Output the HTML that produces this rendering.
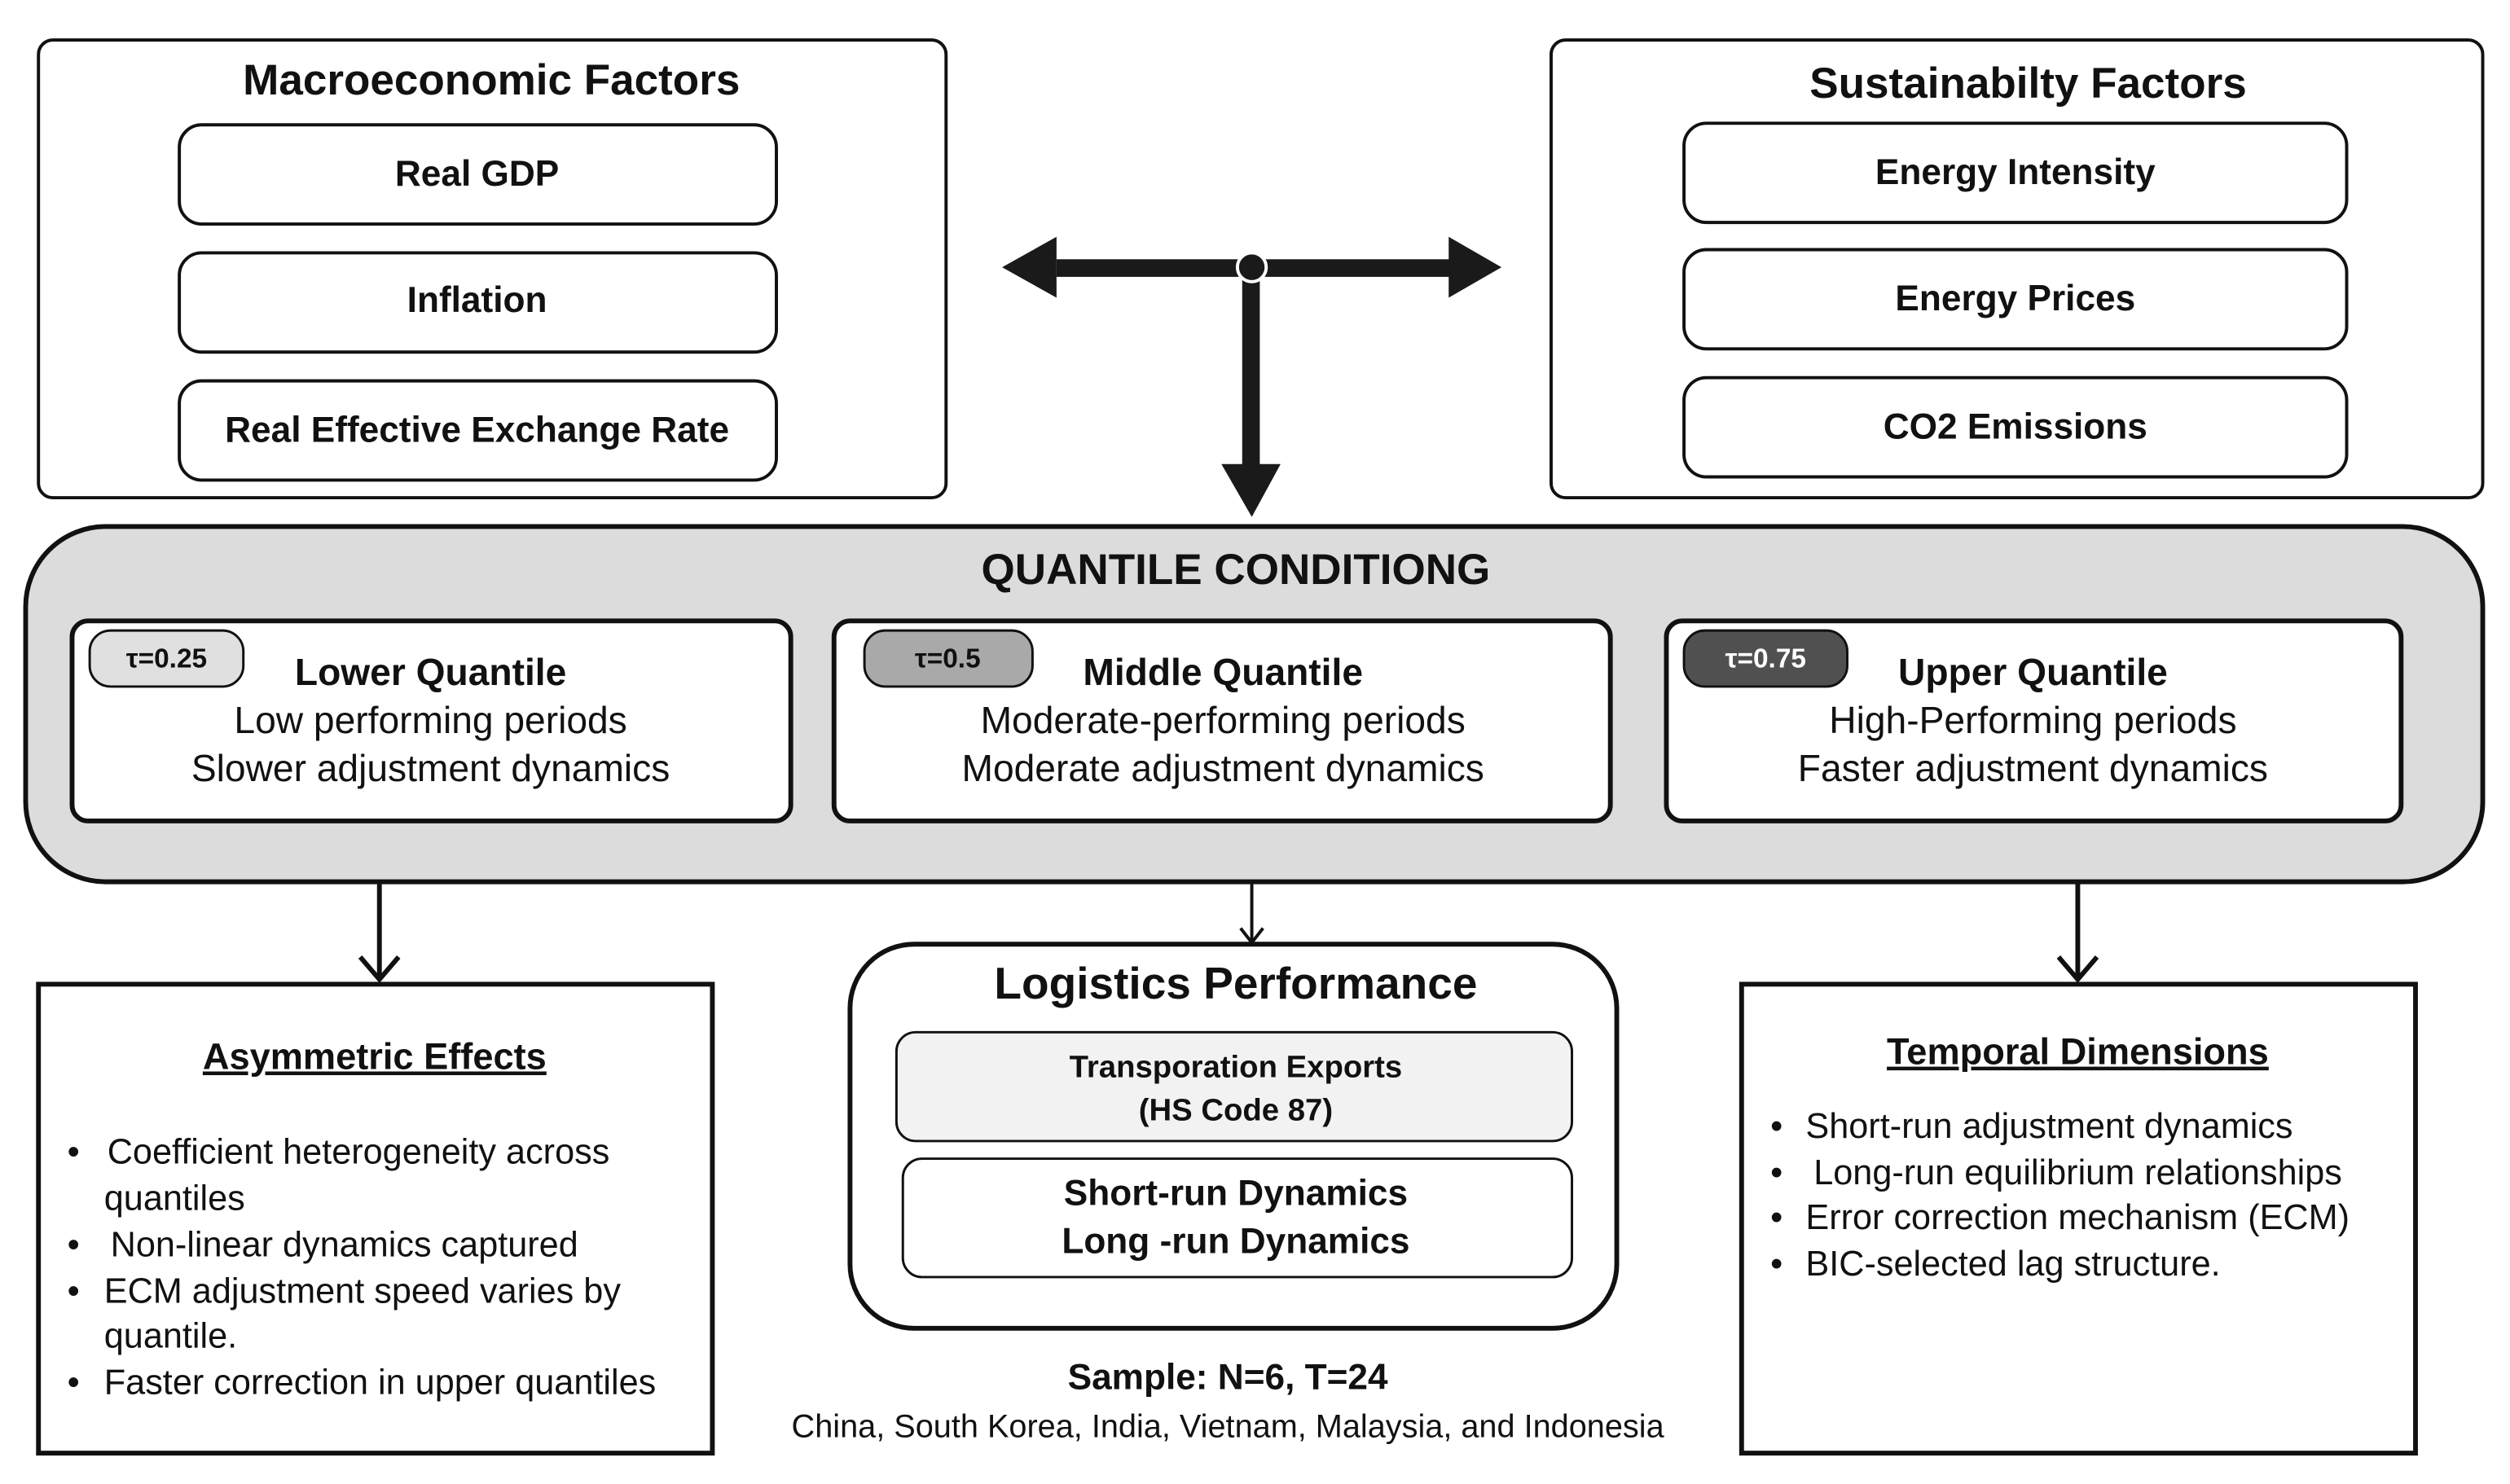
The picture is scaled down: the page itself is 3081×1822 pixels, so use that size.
<!DOCTYPE html>
<html><head><meta charset="utf-8"><style>
html,body{margin:0;padding:0;background:#fff;}
svg{display:block;}
text{font-family:"Liberation Sans",sans-serif;fill:#111;}
.b{font-weight:bold;}
</style></head><body>
<svg width="3081" height="1822" viewBox="0 0 1568 927.3" xmlns="http://www.w3.org/2000/svg">
<rect width="1568" height="928" fill="#fff"/>
<!-- Macro -->
<rect x="24" y="25" width="567" height="286" rx="9" fill="#fff" stroke="#111" stroke-width="2"/>
<text x="307" y="59" text-anchor="middle" class="b" font-size="27">Macroeconomic Factors</text>
<g fill="#fff" stroke="#111" stroke-width="2">
<rect x="112" y="78" width="373" height="62" rx="14"/>
<rect x="112" y="158" width="373" height="62" rx="14"/>
<rect x="112" y="238" width="373" height="62" rx="14"/>
<rect x="1052" y="77" width="414" height="62" rx="14"/>
<rect x="1052" y="156" width="414" height="62" rx="14"/>
<rect x="1052" y="236" width="414" height="62" rx="14"/>
</g>
<g font-size="22.5" text-anchor="middle">
<text x="298" y="116" class="b">Real GDP</text>
<text x="298" y="195" class="b">Inflation</text>
<text x="298" y="276" class="b">Real Effective Exchange Rate</text>
<text x="1259" y="115" class="b">Energy Intensity</text>
<text x="1259" y="194" class="b">Energy Prices</text>
<text x="1259" y="274" class="b">CO2 Emissions</text>
</g>
<!-- Sustainability -->
<rect x="969" y="25" width="582" height="286" rx="9" fill="none" stroke="#111" stroke-width="2"/>
<text x="1267" y="61" text-anchor="middle" class="b" font-size="27">Sustainabilty Factors</text>
<!-- T arrow -->
<rect x="660" y="162" width="248" height="11" fill="#1a1a1a"/>
<polygon points="626,167 660,148 660,186" fill="#1a1a1a"/>
<polygon points="938,167 905,148 905,186" fill="#1a1a1a"/>
<rect x="776" y="167" width="11" height="125" fill="#1a1a1a"/>
<polygon points="763,290 800,290 782,323" fill="#1a1a1a"/>
<circle cx="782" cy="167" r="9" fill="#1a1a1a" stroke="#fff" stroke-width="2"/>
<!-- Quantile -->
<rect x="16" y="329" width="1535" height="222" rx="50" fill="#dcdcdc" stroke="#111" stroke-width="3"/>
<text x="772" y="365" text-anchor="middle" class="b" font-size="27">QUANTILE CONDITIONG</text>
<g fill="#fff" stroke="#111" stroke-width="3">
<rect x="45" y="388" width="449" height="125" rx="10"/>
<rect x="521" y="388" width="485" height="125" rx="10"/>
<rect x="1041" y="388" width="459" height="125" rx="10"/>
</g>
<rect x="56" y="394" width="96" height="35" rx="13" fill="#e0e0e0" stroke="#111" stroke-width="1.5"/>
<rect x="540" y="394" width="105" height="35" rx="13" fill="#a9a9a9" stroke="#111" stroke-width="1.5"/>
<rect x="1052" y="394" width="102" height="35" rx="13" fill="#505050" stroke="#111" stroke-width="1.5"/>
<text x="104" y="417" text-anchor="middle" class="b" font-size="17">τ=0.25</text>
<text x="592" y="417" text-anchor="middle" class="b" font-size="17">τ=0.5</text>
<text x="1103" y="417" text-anchor="middle" class="b" font-size="17" style="fill:#fff">τ=0.75</text>
<g text-anchor="middle" font-size="23.5">
<text x="269" y="428" class="b" font-size="23.5">Lower Quantile</text>
<text x="269" y="458">Low performing periods</text>
<text x="269" y="488">Slower adjustment dynamics</text>
<text x="764" y="428" class="b" font-size="23.5">Middle Quantile</text>
<text x="764" y="458">Moderate-performing periods</text>
<text x="764" y="488">Moderate adjustment dynamics</text>
<text x="1270" y="428" class="b" font-size="23.5">Upper Quantile</text>
<text x="1270" y="458">High-Performing periods</text>
<text x="1270" y="488">Faster adjustment dynamics</text>
</g>
<!-- connectors -->
<g stroke="#111" fill="none">
<line x1="237" y1="551" x2="237" y2="611" stroke-width="3"/>
<polyline points="225,598 237,612 249,598" stroke-width="3"/>
<line x1="782" y1="551" x2="782" y2="589" stroke-width="2"/>
<polyline points="775,580 782,589 789,580" stroke-width="2"/>
<line x1="1298" y1="551" x2="1298" y2="611" stroke-width="3"/>
<polyline points="1286,598 1298,612 1310,598" stroke-width="3"/>
</g>
<!-- Asymmetric -->
<rect x="24" y="615" width="421" height="293" fill="#fff" stroke="#111" stroke-width="3"/>
<text x="234" y="668" text-anchor="middle" class="b" font-size="23" text-decoration="underline">Asymmetric Effects</text>
<g font-size="22">
<text x="42" y="727">•</text><text x="67" y="727">Coefficient heterogeneity across</text>
<text x="65" y="756">quantiles</text>
<text x="42" y="785">•</text><text x="69" y="785">Non-linear dynamics captured</text>
<text x="42" y="814">•</text><text x="65" y="814">ECM adjustment speed varies by</text>
<text x="65" y="842">quantile.</text>
<text x="42" y="871">•</text><text x="65" y="871">Faster correction in upper quantiles</text>
</g>
<!-- Logistics -->
<rect x="531" y="590" width="479" height="240" rx="40" fill="#fff" stroke="#111" stroke-width="3"/>
<text x="772" y="624" text-anchor="middle" class="b" font-size="28">Logistics Performance</text>
<rect x="560" y="645" width="422" height="68" rx="12" fill="#f2f2f2" stroke="#111" stroke-width="1.5"/>
<text x="772" y="673" text-anchor="middle" class="b" font-size="19.5">Transporation Exports</text>
<text x="772" y="700" text-anchor="middle" class="b" font-size="19.5">(HS Code 87)</text>
<rect x="564" y="724" width="418" height="74" rx="12" fill="#fff" stroke="#111" stroke-width="1.5"/>
<text x="772" y="753" text-anchor="middle" class="b" font-size="22.5">Short-run Dynamics</text>
<text x="772" y="783" text-anchor="middle" class="b" font-size="22.5">Long -run Dynamics</text>
<text x="767" y="868" text-anchor="middle" class="b" font-size="22.5">Sample: N=6, T=24</text>
<text x="767" y="898" text-anchor="middle" font-size="20.2">China, South Korea, India, Vietnam, Malaysia, and Indonesia</text>
<!-- Temporal -->
<rect x="1088" y="615" width="421" height="293" fill="#fff" stroke="#111" stroke-width="3"/>
<text x="1298" y="665" text-anchor="middle" class="b" font-size="23" text-decoration="underline">Temporal Dimensions</text>
<g font-size="22">
<text x="1106" y="711">•</text><text x="1128" y="711">Short-run adjustment dynamics</text>
<text x="1106" y="740">•</text><text x="1133" y="740">Long-run equilibrium relationships</text>
<text x="1106" y="768">•</text><text x="1128" y="768">Error correction mechanism (ECM)</text>
<text x="1106" y="797">•</text><text x="1128" y="797">BIC-selected lag structure.</text>
</g>
</svg>
</body></html>
